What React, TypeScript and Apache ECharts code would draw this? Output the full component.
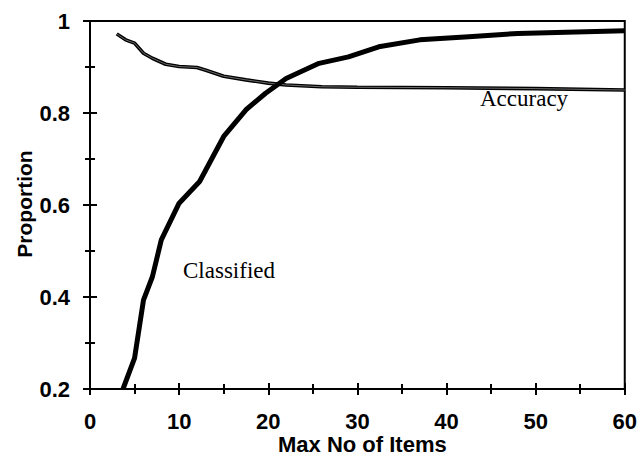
import React, { useEffect, useRef } from "react";
import * as echarts from "echarts";

const accuracyX = [3, 4, 5, 6, 7, 8.5, 10, 12, 13, 15, 17.5, 20, 22, 26, 30, 40, 50, 60];
const accuracyY = [0.972, 0.959, 0.952, 0.93, 0.919, 0.906, 0.901, 0.899, 0.893, 0.88, 0.872, 0.865, 0.861, 0.857, 0.856, 0.855, 0.853, 0.85];

const classifiedX = [3.7, 5, 6, 7, 8, 10, 12.3, 15, 17.5, 19.7, 22, 25.7, 29, 32.4, 37, 42.5, 48, 60];
const classifiedY = [0.2, 0.267, 0.393, 0.444, 0.524, 0.604, 0.651, 0.749, 0.807, 0.843, 0.875, 0.908, 0.922, 0.944, 0.959, 0.966, 0.973, 0.979];

const xTicks = { min: 0, max: 60, interval: 10 };
const yTicks = { min: 0.2, max: 1, interval: 0.2 };

const xTitle = "Max No of Items";
const yTitle = "Proportion";
const classifiedLabel = "Classified";
const accuracyLabel = "Accuracy";

const sans = "'Liberation Sans', Arial, sans-serif";
const serif = "'Liberation Serif', 'Times New Roman', serif";

export default function App() {
  const ref = useRef<HTMLDivElement>(null);
  useEffect(() => {
    if (!ref.current) return;
    const chart = echarts.init(ref.current, null, { renderer: "svg" });
    const zip = (xs: number[], ys: number[]) => xs.map((x, i) => [x, ys[i]]);
    const axisCommonX = {
      type: "value",
      min: xTicks.min,
      max: xTicks.max,
      interval: xTicks.interval,
      splitLine: { show: false },
      minorSplitLine: { show: false },
    };
    const axisCommonY = {
      type: "value",
      min: yTicks.min,
      max: yTicks.max,
      interval: yTicks.interval,
      splitLine: { show: false },
      minorSplitLine: { show: false },
    };
    chart.setOption({
      animation: false,
      backgroundColor: "#fff",
      grid: {
        left: 90,
        right: 13,
        top: 21,
        bottom: 69,
        show: true,
        borderColor: "#000",
        borderWidth: 2,
        containLabel: false,
      },
      xAxis: [
        {
          ...axisCommonX,
          position: "bottom",
          axisLine: { show: true, onZero: false, lineStyle: { color: "#000", width: 2 } },
          axisTick: { show: true, inside: false, length: 6, lineStyle: { color: "#000", width: 2 } },
          minorTick: { show: true, splitNumber: 2, length: 5, lineStyle: { color: "#000", width: 2 } },
          axisLabel: { show: true, margin: 21, color: "#000", fontSize: 22, fontWeight: "bold", fontFamily: sans },
        },
        {
          ...axisCommonX,
          position: "bottom",
          axisLine: { show: false, onZero: false },
          axisTick: { show: true, inside: true, length: 6, lineStyle: { color: "#000", width: 2 } },
          minorTick: { show: true, splitNumber: 2, length: 5, lineStyle: { color: "#000", width: 2 } },
          axisLabel: { show: false },
        },
      ],
      yAxis: [
        {
          ...axisCommonY,
          position: "left",
          axisLine: { show: true, onZero: false, lineStyle: { color: "#000", width: 2 } },
          axisTick: { show: true, inside: false, length: 7, lineStyle: { color: "#000", width: 2 } },
          minorTick: { show: true, splitNumber: 2, length: 5, lineStyle: { color: "#000", width: 2 } },
          axisLabel: { show: true, margin: 20, color: "#000", fontSize: 22, fontWeight: "bold", fontFamily: sans },
        },
        {
          ...axisCommonY,
          position: "left",
          axisLine: { show: false, onZero: false },
          axisTick: { show: true, inside: true, length: 7, lineStyle: { color: "#000", width: 2 } },
          minorTick: { show: true, splitNumber: 2, length: 5, lineStyle: { color: "#000", width: 2 } },
          axisLabel: { show: false },
        },
      ],
      series: [
        {
          type: "line",
          name: "Accuracy",
          xAxisIndex: 0,
          yAxisIndex: 0,
          data: zip(accuracyX, accuracyY),
          showSymbol: false,
          symbol: "none",
          lineStyle: { color: "#000", width: 3.6 },
          z: 3,
        },
        {
          type: "line",
          name: "Accuracy inner",
          xAxisIndex: 0,
          yAxisIndex: 0,
          data: zip(accuracyX, accuracyY),
          showSymbol: false,
          symbol: "none",
          lineStyle: { color: "#fff", width: 0.7, opacity: 0.6 },
          z: 4,
        },
        {
          type: "line",
          name: "Classified",
          xAxisIndex: 0,
          yAxisIndex: 0,
          data: zip(classifiedX, classifiedY),
          showSymbol: false,
          symbol: "none",
          lineStyle: { color: "#000", width: 5 },
          z: 5,
        },
      ],
      graphic: [
        {
          type: "text",
          left: 278,
          top: 433,
          style: { text: xTitle, fill: "#000", font: `bold 22px ${sans}` },
        },
        {
          type: "text",
          x: 24,
          y: 204,
          rotation: Math.PI / 2,
          style: {
            text: yTitle,
            fill: "#000",
            font: `bold 21px ${sans}`,
            align: "center",
            verticalAlign: "middle",
          },
        },
        {
          type: "text",
          left: 183,
          top: 259,
          style: { text: classifiedLabel, fill: "#000", font: `23px ${serif}` },
        },
        {
          type: "text",
          left: 480,
          top: 87,
          style: { text: accuracyLabel, fill: "#000", font: `23px ${serif}` },
        },
      ],
    });
    return () => chart.dispose();
  }, []);
  return (
    <div
      ref={ref}
      style={{ position: "fixed", left: 0, top: 0, width: 640, height: 458, background: "#fff" }}
    />
  );
}
